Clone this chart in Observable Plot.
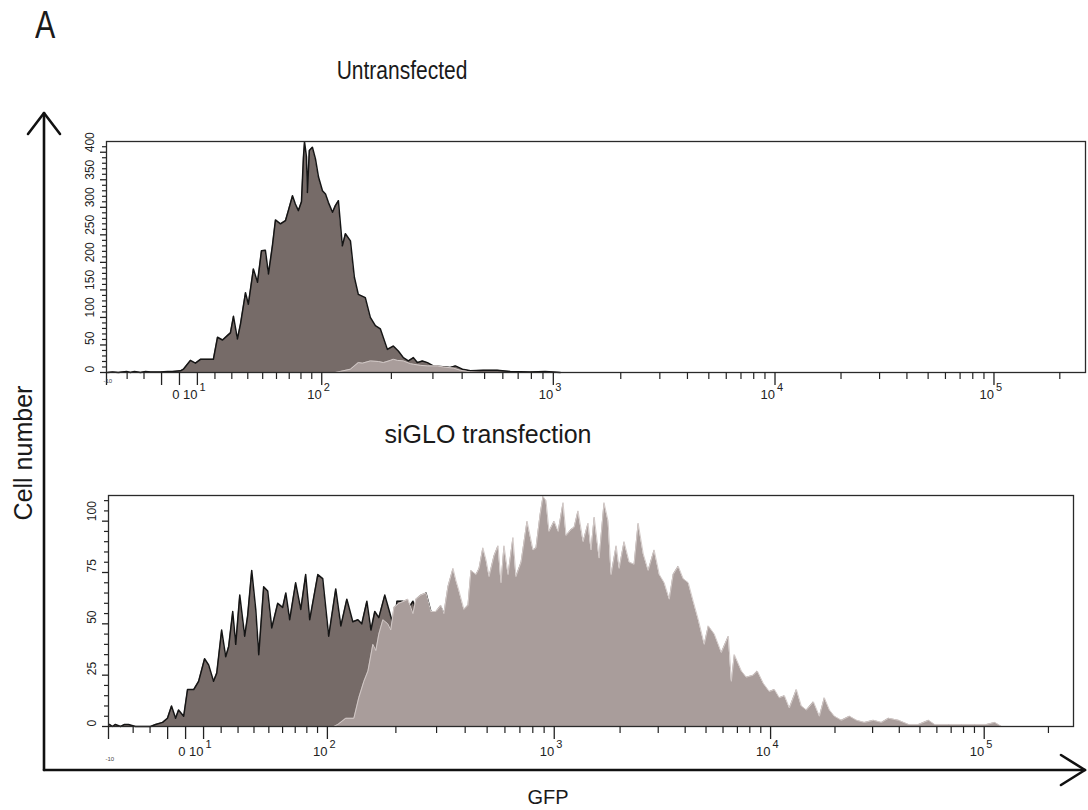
<!DOCTYPE html>
<html>
<head>
<meta charset="utf-8">
<script src="https://cdn.jsdelivr.net/npm/d3@7"></script>
<script src="https://cdn.jsdelivr.net/npm/@observablehq/plot@0.6"></script>
<style>
  body { margin: 0; background: #fff; }
  #fig { position: relative; width: 1088px; height: 810px; overflow: hidden;
         font-family: "Liberation Sans", Arial, sans-serif; color: #1a1a1a; }
  .t { position: absolute; white-space: nowrap; line-height: 1; }
  .panel { position: absolute; left: 0; }
  #arrows { position: absolute; left: 0; top: 0; pointer-events: none; }
</style>
</head>
<body>
<div id="fig">
  <div class="t" style="left:35px;top:5px;font-size:39px;transform:scaleX(0.78);transform-origin:0 0;">A</div>
  <div class="t" style="left:402px;top:58px;font-size:25.6px;transform:translateX(-50%) scaleX(0.82);">Untransfected</div>
  <div class="panel" id="top" style="top:130px;"></div>
  <div class="t" style="left:488px;top:422px;font-size:25px;transform:translateX(-50%);">siGLO transfection</div>
  <div class="panel" id="bottom" style="top:484px;"></div>
  <div class="t" style="left:23px;top:453px;font-size:25px;transform:translate(-50%,-50%) rotate(-90deg);">Cell number</div>
  <div class="t" style="left:548px;top:787px;font-size:20px;transform:translateX(-50%);">GFP</div>
  <svg id="arrows" width="1088" height="810">
    <g fill="none" stroke="#111" stroke-width="2.6" stroke-linecap="round" stroke-linejoin="round">
      <path d="M44,770 V113"/>
      <path d="M28,134 L44,113 L60,134"/>
      <path d="M44,770 H1085"/>
      <path d="M1061,755 L1085,770 L1061,785"/>
    </g>
  </svg>
</div>
<script>
// Histogram bins: [position in logicle display decades, cell count]
const untransfectedAll = [[-0.329,0],[-0.306,1],[-0.279,0],[-0.242,2],[-0.224,0],[-0.206,2],[-0.178,0],[-0.155,2],[-0.133,1],[-0.087,1],[-0.055,2],[-0.032,2],[0.005,3],[0.018,6],[0.050,22],[0.073,17],[0.096,24],[0.155,24],[0.174,64],[0.197,59],[0.219,67],[0.233,72],[0.247,102],[0.265,61],[0.279,88],[0.302,145],[0.315,124],[0.338,188],[0.357,164],[0.375,221],[0.393,222],[0.407,179],[0.425,230],[0.439,277],[0.462,270],[0.485,276],[0.498,294],[0.517,321],[0.530,306],[0.544,294],[0.558,310],[0.567,391],[0.572,419],[0.581,391],[0.585,327],[0.594,403],[0.608,409],[0.622,388],[0.636,355],[0.654,330],[0.668,324],[0.681,309],[0.700,291],[0.713,303],[0.727,312],[0.745,230],[0.759,252],[0.782,239],[0.800,173],[0.818,142],[0.850,136],[0.873,100],[0.896,85],[0.919,79],[0.951,42],[0.978,48],[1.001,39],[1.024,27],[1.047,21],[1.070,27],[1.088,18],[1.111,21],[1.134,18],[1.161,12],[1.193,11],[1.239,9],[1.262,12],[1.294,6],[1.331,3],[1.390,4],[1.454,4],[1.513,2],[1.605,1],[1.673,2],[1.742,0]];
const untransfectedGFP = [[0.713,0],[0.736,2],[0.782,6],[0.818,18],[0.837,17],[0.873,21],[0.910,20],[0.933,18],[0.965,22],[0.978,24],[0.997,22],[1.024,21],[1.056,16],[1.070,15],[1.102,13],[1.134,12],[1.180,12],[1.207,10],[1.253,8],[1.285,4],[1.331,1],[1.376,0]];
const sigloAll = [[-0.357,1],[-0.343,0],[-0.329,1],[-0.305,0],[-0.286,1],[-0.268,1],[-0.235,0],[-0.164,0],[-0.141,1],[-0.108,2],[-0.085,4],[-0.066,10],[-0.047,4],[-0.033,8],[-0.009,5],[0.009,18],[0.038,18],[0.061,22],[0.089,33],[0.108,30],[0.131,22],[0.146,26],[0.169,47],[0.188,34],[0.202,39],[0.221,56],[0.235,40],[0.254,64],[0.277,44],[0.291,54],[0.310,76],[0.329,57],[0.343,35],[0.366,68],[0.385,66],[0.404,48],[0.432,60],[0.455,58],[0.470,65],[0.488,52],[0.516,70],[0.540,57],[0.563,74],[0.582,52],[0.620,74],[0.643,72],[0.671,44],[0.704,67],[0.728,49],[0.756,62],[0.784,51],[0.808,52],[0.826,50],[0.850,61],[0.869,47],[0.887,56],[0.906,53],[0.934,64],[0.953,57],[0.977,48],[0.991,61],[1.019,61],[1.042,57],[1.066,61],[1.080,57],[1.103,63],[1.127,65],[1.150,56],[1.174,55],[1.197,58],[1.211,55]];
const sigloGFP = [[0.695,0],[0.714,1],[0.751,4],[0.789,4],[0.812,14],[0.836,22],[0.855,27],[0.878,40],[0.892,37],[0.906,45],[0.925,52],[0.948,50],[0.962,47],[0.977,58],[1.000,60],[1.024,61],[1.042,62],[1.066,55],[1.080,62],[1.103,64],[1.127,65],[1.150,56],[1.174,56],[1.197,59],[1.211,55],[1.230,68],[1.254,77],[1.268,71],[1.282,66],[1.305,57],[1.324,59],[1.338,76],[1.362,74],[1.376,77],[1.394,87],[1.409,81],[1.423,73],[1.446,83],[1.465,88],[1.479,70],[1.493,88],[1.512,74],[1.535,92],[1.549,73],[1.573,80],[1.601,100],[1.629,86],[1.643,87],[1.662,103],[1.676,112],[1.690,110],[1.704,95],[1.728,100],[1.747,95],[1.770,109],[1.784,93],[1.808,96],[1.822,97],[1.840,105],[1.864,90],[1.887,99],[1.901,86],[1.916,102],[1.939,82],[1.962,109],[1.981,100],[1.995,74],[2.019,88],[2.033,77],[2.056,90],[2.080,80],[2.103,79],[2.122,99],[2.146,84],[2.169,76],[2.197,86],[2.221,74],[2.244,70],[2.268,62],[2.286,74],[2.310,78],[2.333,72],[2.357,70],[2.380,61],[2.404,52],[2.432,40],[2.451,49],[2.479,45],[2.512,36],[2.545,44],[2.559,22],[2.573,35],[2.606,27],[2.629,24],[2.662,25],[2.681,27],[2.709,21],[2.737,17],[2.761,18],[2.784,14],[2.808,15],[2.831,9],[2.864,18],[2.887,10],[2.911,8],[2.944,12],[2.972,5],[2.995,14],[3.019,8],[3.042,5],[3.075,3],[3.113,5],[3.146,3],[3.183,2],[3.225,3],[3.263,2],[3.296,4],[3.343,3],[3.390,1],[3.437,1],[3.484,3],[3.512,1],[3.578,1],[3.639,1],[3.700,1],[3.756,1],[3.794,2],[3.826,0]];

// Axis ticks (GFP intensity)
const majorTicks = [-10, 0, 10, 100, 1000, 10000, 100000];
const minorTicks = [-30, -20, 20, 30, 40, 50, 60, 70, 80, 90, 200, 300, 400, 500, 600, 700, 800, 900,
  2000, 3000, 4000, 5000, 6000, 7000, 8000, 9000, 20000, 30000, 40000, 50000, 60000, 70000, 80000, 90000, 200000];
const tickLabels = [
  {value: 0, base: "0", exp: ""},
  {value: 10, base: "10", exp: "1"},
  {value: 100, base: "10", exp: "2"},
  {value: 1000, base: "10", exp: "3"},
  {value: 10000, base: "10", exp: "4"},
  {value: 100000, base: "10", exp: "5"}
];
const edgeLabel = "-10";
const maxValue = 262144;

// Panel settings: logicle parameters, lower display limit, count axis
const panels = [
  {id: "top", all: untransfectedAll, gfp: untransfectedGFP, A: 18.8, p: 1.81, uMin: -0.3338,
   yMax: 419.5, yMajor: d3.range(0, 401, 50), yMinor: d3.range(0, 420, 10).filter(d => d % 50),
   height: 290, marginTop: 11, marginBottom: 48, marginLeft: 106, marginRight: 3, labelDy: 26, edgeDy: 10},
  {id: "bottom", all: sigloAll, gfp: sigloGFP, A: 18.0, p: 1.855, uMin: -0.3615,
   yMax: 112.5, yMajor: d3.range(0, 101, 25), yMinor: d3.range(0, 112, 5).filter(d => d % 25),
   height: 300, marginTop: 11, marginBottom: 58, marginLeft: 108, marginRight: 15, labelDy: 29, edgeDy: 34}
];

// Logicle display transform: intensity -> display decades
function logicle(A, p) {
  const p2 = p * p;
  const inverse = u => {
    const a = Math.abs(u);
    const v = A * (Math.pow(10, a) - p2 * Math.pow(10, -a / p) + p2 - 1);
    return u < 0 ? -v : v;
  };
  return v => {
    const t = Math.abs(v);
    let lo = 0, hi = 8;
    for (let i = 0; i < 60; i++) {
      const m = (lo + hi) / 2;
      if (inverse(m) < t) lo = m; else hi = m;
    }
    const u = (lo + hi) / 2;
    return v < 0 ? -u : u;
  };
}

const darkFill = "#766b68", lightFill = "#a99d9b";
const axisFont = `"Liberation Sans", Arial, sans-serif`;

for (const P of panels) {
  const f = logicle(P.A, P.p);
  const uMax = f(maxValue);
  const toRow = ([u, n]) => ({u, n});
  const all = P.all.map(toRow), gfp = P.gfp.map(toRow);
  const labels = tickLabels.map(d => ({...d, u: f(d.value)}));

  const chart = Plot.plot({
    width: 1088,
    height: P.height,
    marginTop: P.marginTop,
    marginBottom: P.marginBottom,
    marginLeft: P.marginLeft,
    marginRight: P.marginRight,
    style: {fontFamily: axisFont, color: "#222", background: "transparent"},
    x: {domain: [P.uMin, uMax]},
    y: {domain: [0, P.yMax]},
    marks: [
      Plot.areaY(all, {x: "u", y: "n", fill: darkFill}),
      Plot.lineY(all, {x: "u", y: "n", stroke: "#151515", strokeWidth: 1.5}),
      Plot.areaY(gfp, {x: "u", y: "n", fill: lightFill}),
      Plot.lineY(gfp, {x: "u", y: "n", stroke: "#d2c9c7", strokeWidth: 1}),
      Plot.frame({stroke: "#2a2a2a", strokeWidth: 1.3}),
      // x axis ticks
      Plot.axisX([P.uMin, ...majorTicks.map(f)], {tickSize: 13, strokeWidth: 1.3, stroke: "#222", tickFormat: () => "", label: null}),
      Plot.axisX(minorTicks.map(f), {tickSize: 7, strokeWidth: 1.2, stroke: "#222", tickFormat: () => "", label: null}),
      Plot.text(labels, {x: "u", text: "base", frameAnchor: "bottom", textAnchor: "end", dx: 0, dy: P.labelDy, fontSize: 13, fill: "#222"}),
      Plot.text(labels.filter(d => d.exp), {x: "u", text: "exp", frameAnchor: "bottom", textAnchor: "start", dx: 2, dy: P.labelDy - 8, fontSize: 11, fill: "#222"}),
      Plot.text([P.uMin], {x: d => d, text: () => edgeLabel, frameAnchor: "bottom", textAnchor: "start", dx: -3, dy: P.edgeDy, fontSize: 6, fill: "#444"}),
      // y axis ticks
      Plot.axisY(P.yMajor, {tickSize: 6, strokeWidth: 1.3, stroke: "#222", tickFormat: () => "", label: null}),
      Plot.axisY(P.yMinor, {tickSize: 4, strokeWidth: 1.2, stroke: "#222", tickFormat: () => "", label: null}),
      Plot.text(P.yMajor, {y: d => d, text: d => String(d), frameAnchor: "left", dx: -16, rotate: -90, fontSize: 12, fill: "#222"})
    ]
  });
  document.getElementById(P.id).appendChild(chart);
}
</script>
</body>
</html>
